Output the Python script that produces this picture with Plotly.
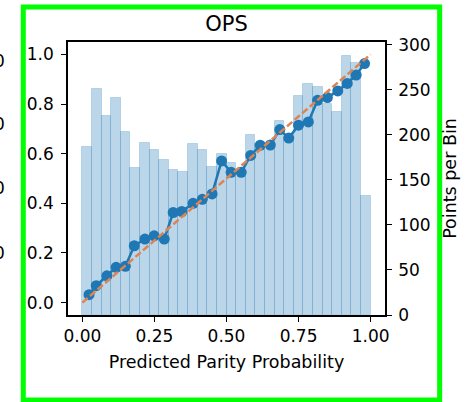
import plotly.graph_objects as go

# Histogram of predicted probabilities: 30 equal-width bins on [0, 1]
n_bins = 30
bin_counts = [187, 251, 221, 241, 203, 163, 191, 183, 172, 161,
              159, 190, 183, 164, 179, 169, 160, 200, 190, 186,
              215, 195, 243, 256, 253, 234, 225, 288, 280, 132]

# Calibration curve: mean predicted probability vs observed fraction per bin
mean_predicted = [0.023, 0.048, 0.085, 0.117, 0.149, 0.180, 0.217, 0.249, 0.284, 0.315,
                  0.345, 0.384, 0.416, 0.450, 0.483, 0.516, 0.551, 0.584, 0.617, 0.652,
                  0.685, 0.716, 0.750, 0.784, 0.816, 0.850, 0.886, 0.919, 0.950, 0.979]
fraction_positive = [0.032, 0.068, 0.108, 0.142, 0.146, 0.229, 0.256, 0.269, 0.256, 0.363,
                     0.367, 0.400, 0.416, 0.438, 0.571, 0.525, 0.525, 0.593, 0.634, 0.635,
                     0.697, 0.663, 0.715, 0.728, 0.815, 0.826, 0.853, 0.883, 0.917, 0.963]

x_ticks = [0.0, 0.25, 0.5, 0.75, 1.0]
x_tick_labels = ["0.00", "0.25", "0.50", "0.75", "1.00"]
frac_ticks = [0.0, 0.2, 0.4, 0.6, 0.8, 1.0]
frac_tick_labels = ["0.0", "0.2", "0.4", "0.6", "0.8", "1.0"]
count_ticks = [0, 50, 100, 150, 200, 250, 300]

bin_width = 1.0 / n_bins
bin_centers = [(i + 0.5) * bin_width for i in range(n_bins)]

FONT = "DejaVu Sans"
BLUE = "#1f77b4"

fig = go.Figure()

# Bin counts on the right-hand axis (drawn underneath)
fig.add_trace(go.Bar(
    x=bin_centers, y=bin_counts, width=bin_width, yaxis="y",
    marker=dict(color="rgba(31,119,180,0.3)",
                line=dict(color="rgba(31,119,180,0.22)", width=1)),
    showlegend=False, hoverinfo="skip",
))

# Calibration curve
fig.add_trace(go.Scatter(
    x=mean_predicted, y=fraction_positive, yaxis="y2", mode="lines+markers",
    line=dict(color=BLUE, width=2.5), marker=dict(color=BLUE, size=11),
    showlegend=False,
))

# Perfect-calibration diagonal
fig.add_trace(go.Scatter(
    x=[0, 1], y=[0, 1], yaxis="y2", mode="lines",
    line=dict(color="#dd8452", width=2.5, dash="7px,3px"),
    showlegend=False,
))

L, R, T, B = 68, 82, 42, 87
W, H = 469, 402
pw, ph = W - L - R, H - T - B


def px_x(x):
    return (x - L) / pw


def px_y(y):
    return (H - B - y) / ph


axis_common = dict(
    showline=True, linecolor="black", linewidth=1.5,
    ticks="outside", ticklen=5, tickwidth=1.3, tickcolor="black",
    showgrid=False, zeroline=False,
    tickfont=dict(family=FONT, size=17, color="black"),
)

fig.update_layout(
    width=W, height=H,
    margin=dict(l=L, r=R, t=T, b=B, pad=0),
    paper_bgcolor="white", plot_bgcolor="white",
    font=dict(family=FONT, color="black"),
    bargap=0,
    title=dict(text="OPS", x=0.5, xref="paper", xanchor="center",
               y=1 - 23.5 / H, yref="container", yanchor="middle",
               font=dict(family=FONT, size=21, color="black")),
    xaxis=dict(range=[-0.05, 1.05], tickvals=x_ticks, ticktext=x_tick_labels,
               mirror=True,
               title=dict(text="Predicted Parity Probability", standoff=11,
                          font=dict(family=FONT, size=17.5, color="black")),
               **axis_common),
    yaxis=dict(range=[0, 303], tickvals=count_ticks, side="right", mirror=True,
               ticklabelstandoff=3,
               title=dict(text="Points per Bin", standoff=14,
                          font=dict(family=FONT, size=17.5, color="black")),
               **axis_common),
    yaxis2=dict(range=[-0.05, 1.05], tickvals=frac_ticks, ticktext=frac_tick_labels,
                side="left", overlaying="y", ticklabelstandoff=4, **axis_common),
)

# Tick labels of the neighbouring panel, cut off at the left edge
for yp in [61, 123.5, 187.5, 252.5]:
    fig.add_annotation(text="0", x=px_x(7), y=px_y(yp), xref="paper", yref="paper",
                       xanchor="right", yanchor="middle", showarrow=False,
                       font=dict(family=FONT, size=17, color="black"))

# Green frame around the panel
fig.add_shape(type="rect", xref="paper", yref="paper",
              x0=px_x(23), x1=px_x(442), y0=px_y(400), y1=px_y(7),
              line=dict(color="#00ff00", width=5), fillcolor="rgba(0,0,0,0)",
              layer="above")

fig.write_html("out.html")
